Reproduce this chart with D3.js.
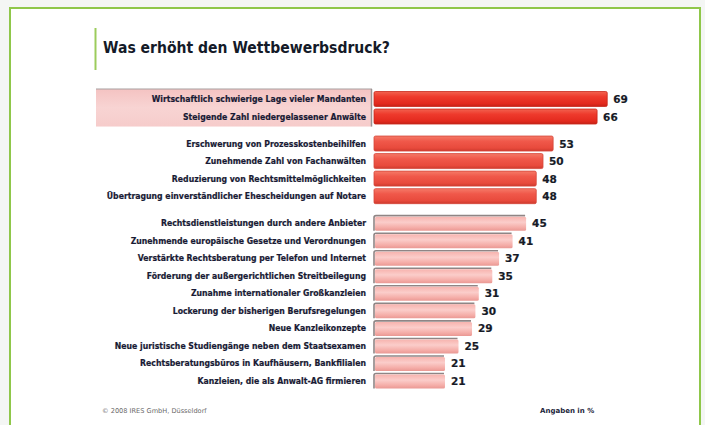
<!DOCTYPE html>
<html>
<head>
<meta charset="utf-8">
<script src="https://cdn.jsdelivr.net/npm/d3@7"></script>
<style>
  body { margin: 0; background: #f4f6f4; }
  svg { display: block; }
  text { font-family: "DejaVu Sans", Verdana, sans-serif; }
</style>
</head>
<body>
<svg id="chart" width="705" height="425"></svg>
<script>
const categories = [
  'Wirtschaftlich schwierige Lage vieler Mandanten',
  'Steigende Zahl niedergelassener Anwälte',
  'Erschwerung von Prozesskostenbeihilfen',
  'Zunehmende Zahl von Fachanwälten',
  'Reduzierung von Rechtsmittelmöglichkeiten',
  'Übertragung einverständlicher Ehescheidungen auf Notare',
  'Rechtsdienstleistungen durch andere Anbieter',
  'Zunehmende europäische Gesetze und Verordnungen',
  'Verstärkte Rechtsberatung per Telefon und Internet',
  'Förderung der außergerichtlichen Streitbeilegung',
  'Zunahme internationaler Großkanzleien',
  'Lockerung der bisherigen Berufsregelungen',
  'Neue Kanzleikonzepte',
  'Neue juristische Studiengänge neben dem Staatsexamen',
  'Rechtsberatungsbüros in Kaufhäusern, Bankfilialen',
  'Kanzleien, die als Anwalt-AG firmieren'
];
const values = [69, 66, 53, 50, 48, 48, 45, 41, 37, 35, 31, 30, 29, 25, 21, 21];
const groups = [0, 0, 1, 1, 1, 1, 2, 2, 2, 2, 2, 2, 2, 2, 2, 2];

const title = 'Was erhöht den Wettbewerbsdruck?';
const source = '© 2008 IRES GmbH, Düsseldorf';
const unitNote = 'Angaben in %';

const svg = d3.select('svg#chart');

// white card with green frame
svg.append('rect')
  .attr('x', 10).attr('y', 8)
  .attr('width', 690).attr('height', 430)
  .attr('fill', '#ffffff')
  .attr('stroke', '#8fc74a')
  .attr('stroke-width', 2);

// gradients
const defs = svg.append('defs');
function vGrad(id, stops) {
  const g = defs.append('linearGradient').attr('id', id)
    .attr('x1', 0).attr('y1', 0).attr('x2', 0).attr('y2', 1);
  stops.forEach(s => g.append('stop').attr('offset', s[0]).attr('stop-color', s[1]));
}
vGrad('g0', [[0, '#f2624f'], [0.35, '#ee3a2c'], [0.8, '#e32a1e'], [1, '#c62116']]);
vGrad('g1', [[0, '#f57a68'], [0.35, '#f0584a'], [0.8, '#e84a3c'], [1, '#cd3a2e']]);
vGrad('g2', [[0, '#f7b3ae'], [0.4, '#fbcdca'], [0.8, '#f4aba6'], [1, '#e99893']]);
vGrad('band', [[0, '#f4c3c2'], [0.5, '#f8d4d3'], [1, '#f6cccb']]);

// title
svg.append('line')
  .attr('x1', 95.5).attr('x2', 95.5).attr('y1', 28).attr('y2', 70)
  .attr('stroke', '#9ccc5c').attr('stroke-width', 2);

const titleText = svg.append('text')
  .attr('x', 103).attr('y', 53)
  .attr('font-size', 15).attr('font-weight', 'bold')
  .attr('fill', '#141a28')
  .text(title);
const tw = titleText.node().getComputedTextLength();
if (tw > 287) titleText.attr('textLength', 287).attr('lengthAdjust', 'spacingAndGlyphs');

// scales
const gapSlots = 0.54;
const slot = (i) => i + groups[i] * gapSlots;
const y = d3.scaleLinear()
  .domain([0, slot(categories.length - 1)])
  .range([99, 381]);
const x = d3.scaleLinear().domain([0, 100]).range([374, 712]);
const barH = 15;
const yc = (d) => y(slot(d.i));

// highlighted band behind top two labels
svg.append('rect')
  .attr('x', 96).attr('y', y(0) - 10)
  .attr('width', 276).attr('height', y(1) - y(0) + 20)
  .attr('fill', 'url(#band)');
svg.append('line')
  .attr('x1', 96).attr('x2', 372)
  .attr('y1', y(0) - 10).attr('y2', y(0) - 10)
  .attr('stroke', '#a8a0a0').attr('stroke-width', 1.2);
svg.append('line')
  .attr('x1', 371.5).attr('x2', 371.5)
  .attr('y1', y(0) - 10).attr('y2', y(1) + 10)
  .attr('stroke', '#9a9494').attr('stroke-width', 1.5);

const rows = categories.map((c, i) => ({ c, v: values[i], g: groups[i], i }));

// bar shadows for the light group
svg.selectAll('path.shadow').data(rows.filter(d => d.g === 2)).enter()
  .append('path')
  .attr('class', 'shadow')
  .attr('d', d => {
    const x0 = x(0), yTop = yc(d) - barH / 2, x1 = x(d.v);
    return `M${x0},${yTop + barH} L${x0},${yTop + 2} Q${x0},${yTop} ${x0 + 2},${yTop} L${x1 - 1},${yTop}`;
  })
  .attr('fill', 'none')
  .attr('stroke', '#8f8585')
  .attr('stroke-width', 1.6);

svg.selectAll('rect.bar').data(rows).enter()
  .append('rect')
  .attr('class', 'bar')
  .attr('x', d => x(0) + (d.g === 2 ? 1 : 0))
  .attr('y', d => yc(d) - barH / 2 + (d.g === 2 ? 1 : 0))
  .attr('width', d => x(d.v) - x(0) - (d.g === 2 ? 1 : 0))
  .attr('height', d => barH - (d.g === 2 ? 1 : 0))
  .attr('rx', 1.5)
  .attr('fill', d => `url(#g${d.g})`)
  .attr('stroke', d => d.g === 0 ? '#c8281c' : d.g === 1 ? '#d6463a' : 'none')
  .attr('stroke-width', 0.8);

// value labels
svg.selectAll('text.value').data(rows).enter()
  .append('text')
  .attr('class', 'value')
  .attr('x', d => x(d.v) + 6)
  .attr('y', d => yc(d) + 4)
  .attr('font-size', 10.5).attr('font-weight', 'bold')
  .attr('fill', '#161a26')
  .attr('stroke', '#161a26').attr('stroke-width', 0.2)
  .text(d => d.v);

// category labels, squeezed to the reference width
const labelG = svg.append('g');
const labels = labelG.selectAll('text.label').data(rows).enter()
  .append('text')
  .attr('class', 'label')
  .attr('text-anchor', 'end')
  .attr('y', d => yc(d) + 3)
  .attr('font-size', 8.4).attr('font-weight', 'bold')
  .attr('fill', '#181a34')
  .attr('stroke', '#181a34').attr('stroke-width', 0.2)
  .text(d => d.c);
const longest = d3.max(labels.nodes(), n => n.getComputedTextLength());
const sx = Math.min(1, 259 / longest);
labels.attr('x', 366 / sx);
labelG.attr('transform', `scale(${sx},1)`);

// footer
svg.append('text')
  .attr('x', 102).attr('y', 413)
  .attr('font-size', 6.6)
  .attr('fill', '#6a6a6a')
  .text(source);
svg.append('text')
  .attr('x', 540).attr('y', 413)
  .attr('font-size', 7).attr('font-weight', 'bold')
  .attr('fill', '#22243a')
  .text(unitNote);
</script>
</body>
</html>
